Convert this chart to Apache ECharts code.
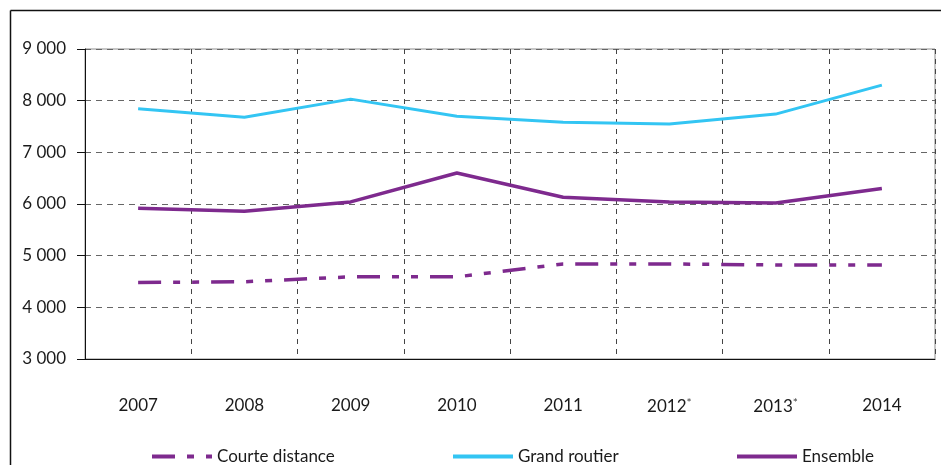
<!DOCTYPE html>
<html>
<head>
<meta charset="utf-8">
<script src="https://cdn.jsdelivr.net/npm/echarts@6/dist/echarts.min.js"></script>
<style>
  html, body { margin: 0; padding: 0; background: #fff; }
  #chart { width: 941px; height: 465px; }
</style>
</head>
<body>
<div id="chart"></div>
<script>
// années (l'astérisque est affiché en exposant)
const years = ['2007', '2008', '2009', '2010', '2011', '2012*', '2013*', '2014'];

// valeurs
const courteDistance = [4480, 4495, 4590, 4590, 4840, 4840, 4820, 4820];
const grandRoutier = [7845, 7680, 8030, 7700, 7580, 7550, 7740, 8300];
const ensemble = [5920, 5860, 6040, 6600, 6130, 6040, 6020, 6300];

const yTicks = { min: 3000, max: 9000, step: 1000 };

const violet = '#7e2a8e';
const cyan = '#33c5f3';
const font = 'Lato';

const myChart = echarts.init(document.getElementById('chart'));

function legendAt(name, left) {
    return {
        data: [name],
        left: left,
        top: 443,
        itemWidth: 60,
        itemHeight: 14,
        itemStyle: { opacity: 0, borderWidth: 0 },
        lineStyle: { width: 4 },
        textStyle: { fontFamily: font, fontSize: 17, color: '#1a1a1a' }
    };
}

myChart.setOption({
    animation: false,
    textStyle: { fontFamily: font },
    graphic: [
        { type: 'line', shape: { x1: 10.5, y1: 10.5, x2: 941, y2: 10.5 }, style: { stroke: '#111', lineWidth: 1.5 } },
        { type: 'line', shape: { x1: 10.5, y1: 10.5, x2: 10.5, y2: 465 }, style: { stroke: '#111', lineWidth: 1.5 } }
    ],
    grid: {
        left: 85,
        right: 6,
        top: 49,
        bottom: 106,
        show: true,
        borderColor: '#8c8c8c',
        borderWidth: 1
    },
    legend: [
        legendAt('Courte distance', 145),
        legendAt('Grand routier', 446),
        legendAt('Ensemble', 730)
    ],
    xAxis: {
        type: 'category',
        data: years,
        boundaryGap: true,
        axisLine: { lineStyle: { color: '#111', width: 1 } },
        axisTick: { interval: 0, length: 8, lineStyle: { color: '#111' } },
        axisLabel: {
            interval: 0,
            margin: 38,
            fontSize: 17,
            color: '#1a1a1a',
            formatter: function (v) {
                if (v.indexOf('*') > -1) {
                    return '{n|' + v.replace('*', '') + '}{s|*}';
                }
                return '{n|' + v + '}';
            },
            rich: {
                n: { fontSize: 17, fontFamily: font, color: '#1a1a1a' },
                s: { fontSize: 12, fontFamily: font, color: '#444', verticalAlign: 'top', padding: [0, 0, 8, 0] }
            }
        },
        splitLine: {
            show: true,
            interval: 0,
            lineStyle: { color: '#444', type: [5, 5], width: 1 }
        }
    },
    yAxis: {
        type: 'value',
        min: yTicks.min,
        max: yTicks.max,
        interval: yTicks.step,
        axisLine: { show: true, lineStyle: { color: '#111', width: 1 } },
        axisTick: { show: true, length: 8, lineStyle: { color: '#111' } },
        axisLabel: {
            margin: 19,
            fontSize: 17,
            color: '#1a1a1a',
            formatter: function (v) {
                return String(v).replace(/\B(?=(\d{3})+(?!\d))/g, ' ');
            }
        },
        splitLine: {
            show: true,
            lineStyle: { color: '#666', type: [6, 5], width: 1 }
        }
    },
    series: [
        {
            name: 'Courte distance',
            type: 'line',
            data: courteDistance,
            symbol: 'none',
            color: violet,
            lineStyle: { color: violet, width: 3.5, type: [23, 12, 7, 12, 7, 12], cap: 'butt' },
            z: 3
        },
        {
            name: 'Grand routier',
            type: 'line',
            data: grandRoutier,
            symbol: 'none',
            color: cyan,
            lineStyle: { color: cyan, width: 3 },
            z: 3
        },
        {
            name: 'Ensemble',
            type: 'line',
            data: ensemble,
            symbol: 'none',
            color: violet,
            lineStyle: { color: violet, width: 3.5 },
            z: 3
        }
    ]
});
</script>
</body>
</html>
